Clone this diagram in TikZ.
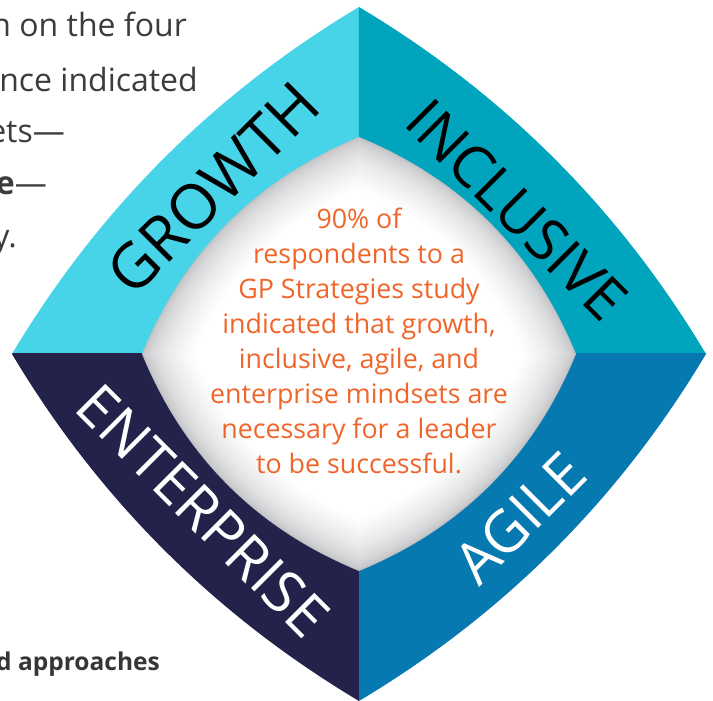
\documentclass[tikz,border=0pt]{standalone}
\usepackage{fontspec}
\setmainfont{Open Sans}
\definecolor{cgrowth}{HTML}{48D4E8}
\definecolor{cincl}{HTML}{00A5BD}
\definecolor{cagile}{HTML}{0779B1}
\definecolor{centr}{HTML}{22224A}
\definecolor{corange}{HTML}{F0652A}
\definecolor{cbgtext}{HTML}{3C3C3C}
\definecolor{cedge}{HTML}{BEBFC2}
% curved diamond: #1 = half diagonal, #2 = control point offset (per axis)
\newcommand\mydiam[2]{(-#1,0) .. controls ({-2*#1/3-#2},{#1/3+#2}) and ({-#1/3-#2},{2*#1/3+#2}) .. (0,#1)
  .. controls ({#1/3+#2},{2*#1/3+#2}) and ({2*#1/3+#2},{#1/3+#2}) .. (#1,0)
  .. controls ({2*#1/3+#2},{-#1/3-#2}) and ({#1/3+#2},{-2*#1/3-#2}) .. (0,-#1)
  .. controls ({-#1/3-#2},{-2*#1/3-#2}) and ({-2*#1/3-#2},{-#1/3-#2}) .. (-#1,0) -- cycle}
\tikzset{
  bgtext/.style={anchor=base east, inner sep=0pt, text=cbgtext, font=\fontsize{32}{32}\selectfont},
  mindset/.style={inner sep=0pt, font=\fontsize{58}{58}\selectfont},
  msgtext/.style={inner sep=0pt, align=center, text=corange, font=\fontsize{26.8}{35}\selectfont}
}
\begin{document}
\begin{tikzpicture}[x=1pt,y=1pt]
\useasboundingbox (-359,-347) rectangle (354,354);
\clip (-359,-347) rectangle (354,354);
% background text fragments
\node[bgtext] (t1) at (-172,317) {n on the four};
\node[bgtext] (t2) at (-161,262) {nce indicated};
\node[bgtext] (t3) at (-294,211) {ets—};
\node[bgtext] (t4) at (-312,159) {\textbf{e}—};
\node[bgtext] (t5) at (-342,106) {y.};
\node[bgtext, font=\fontsize{24.5}{24.5}\selectfont\bfseries, text=cbgtext!90!black] (t6) at (-199,-317) {d approaches};
% quadrants
\begin{scope}\clip (-400,0) rectangle (0,400); \fill[cgrowth] \mydiam{347}{29.2}; \end{scope}
\begin{scope}\clip (0,0) rectangle (400,400); \fill[cincl] \mydiam{347}{29.2}; \end{scope}
\begin{scope}\clip (0,0) rectangle (400,-400); \fill[cagile] \mydiam{347}{29.2}; \end{scope}
\begin{scope}\clip (-400,0) rectangle (0,-400); \fill[centr] \mydiam{347}{29.2}; \end{scope}
% inner shaded diamond
\foreach \i in {0,...,48}{
  \pgfmathsetmacro\s{1-0.24*(\i/48)}
  \pgfmathsetmacro\p{100*(\i/48)^0.55}
  \fill[white!\p!cedge, scale=\s] \mydiam{217}{30.2};
}
% labels
\node[mindset, rotate=45, text=black, font=\fontsize{62}{62}\selectfont] (growth) at (-146,166) {GROWTH};
\node[mindset, rotate=-45, text=black] (inclusive) at (158,144) {INCLUSIVE};
\node[mindset, rotate=-45, text=white] (enterprise) at (-156,-157) {ENTERPRISE};
\node[mindset, rotate=45, text=white] (agile) at (161,-164) {AGILE};
\node[msgtext] (msg) at (0,13) {90\% of\\respondents to a\\GP Strategies study\\indicated that growth,\\inclusive, agile, and\\enterprise mindsets are\\necessary for a leader\\to be successful.};
\end{tikzpicture}
\end{document}
